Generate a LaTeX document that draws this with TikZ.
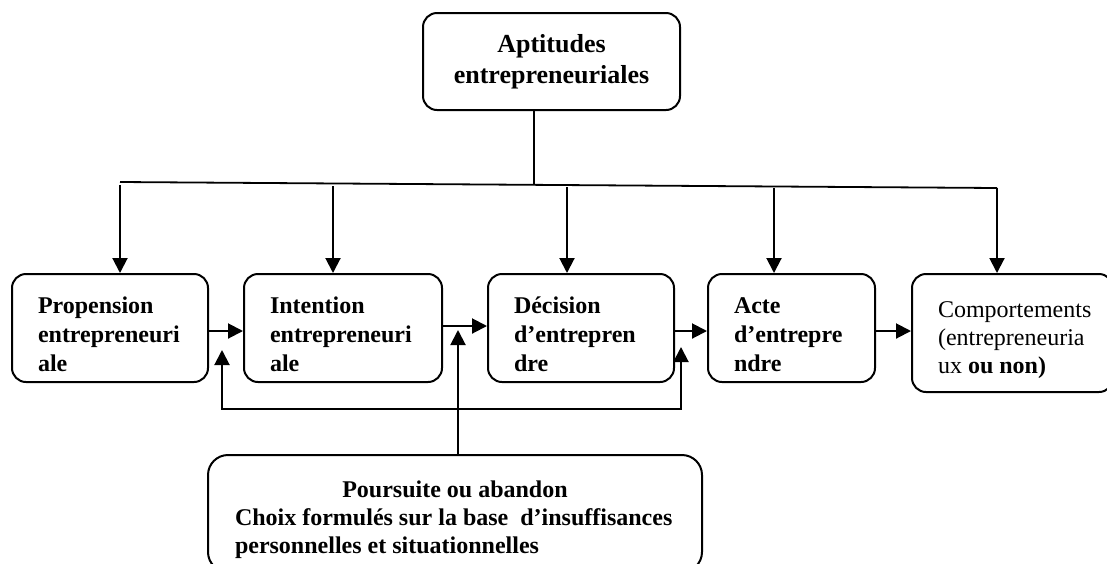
\documentclass[tikz,border=0pt]{standalone}
\usepackage{fontspec}
\setmainfont{Liberation Serif}
\usetikzlibrary{positioning,arrows.meta}

\begin{document}
\begin{tikzpicture}[x=0.5pt, y=-0.5pt,
  etape/.style={draw, line width=1pt, rounded corners=7pt, align=flush left, inner xsep=13pt, minimum height=54pt, font=\fontsize{12}{14.5}\selectfont\bfseries, execute at begin node={\rule{0pt}{15pt}}},
  arr/.style={line width=1pt, -{Triangle[length=7.5pt,width=7.5pt]}},
  arrboth/.style={line width=1pt, {Triangle[length=7.5pt,width=7.5pt]}-{Triangle[length=7.5pt,width=7.5pt]}},
  node distance = 17pt]
          \useasboundingbox (0,0) rectangle (1107,563);
          \clip (0,0) rectangle (1107,563);
          \node[etape, align=center, minimum width=128.5pt, minimum height=48.5pt, font=\fontsize{13}{15.5}\selectfont\bfseries, execute at begin node={\rule{0pt}{11pt}}](aptitudes) at (551.5,61.5) {Aptitudes\\entrepreneuriales};
          \node[etape, text width=72pt](propension)  at (110,328)                 {Propension\\entrepreneuri\\ale};
          \node[etape, text width=73pt](intention)   [right=17pt of propension]   {Intention\\entrepreneuri\\ale};
          \node[etape, text width=67pt](decision)    [right=22pt of intention]    {Décision\\d’entrepren\\dre};
          \node[etape, text width=57.5pt](acte)      [right=16pt of decision]     {Acte\\d’entrepre\\ndre};
          \node[etape, text width=74.5pt, minimum height=59pt, font=\fontsize{12}{14}\selectfont, execute at begin node={\rule{0pt}{12pt}}](comportements) [right=17.5pt of acte, yshift=-2.5pt] {Comportements\\(entrepreneuria\\ux \textbf{ou non)}};
          \node[etape, rounded corners=10pt, text width=220pt, inner xsep=13.5pt, minimum height=58.5pt, font=\fontsize{12}{14}\selectfont\bfseries, execute at begin node={\rule{0pt}{12pt}}](poursuite) at (455,513.5) {\hfill Poursuite ou abandon\hfill\null\\Choix formulés sur la base~ d’insuffisances\\personnelles et situationnelles};
          \coordinate (jn)  at (534,184);
          \coordinate (hl)  at (120,182);
          \coordinate (hr)  at (997,188);
          \coordinate (d1)  at (120,185);
          \coordinate (d2)  at (333,186);
          \coordinate (d3)  at (567,187);
          \coordinate (d4)  at (774,188);
          \coordinate (d5)  at (997,188);
          \coordinate (fbl) at (222,350);
          \coordinate (fbr) at (681,347);
          \coordinate (fbm) at (458,409);
          \coordinate (up)  at (458,330);
          \draw[line width=0.6pt] (jn |- aptitudes.south) -- (jn);
          \draw[line width=0.9pt] (hl) -- (hr);
          \path[arr]
            (d1) edge (d1 |- propension.north)
            (d2) edge (d2 |- intention.north)
            (d3) edge (d3 |- decision.north)
            (d4) edge (d4 |- acte.north)
            (d5) edge (d5 |- comportements.north)
            ([yshift=-1.5pt]propension.east) edge ([yshift=-1.5pt]intention.west)
            ([yshift=1pt]intention.east)     edge ([yshift=1pt]decision.west)
            ([yshift=-1.5pt]decision.east)   edge ([yshift=-1.5pt]acte.west)
            ([yshift=-1.5pt]acte.east)       edge ([yshift=1pt]comportements.west)
            (up |- poursuite.north)          edge (up)
            ;
          \draw[arrboth] (fbl) -- (fbl |- fbm) -- (fbr |- fbm) -- (fbr);
        \end{tikzpicture}
\end{document}
